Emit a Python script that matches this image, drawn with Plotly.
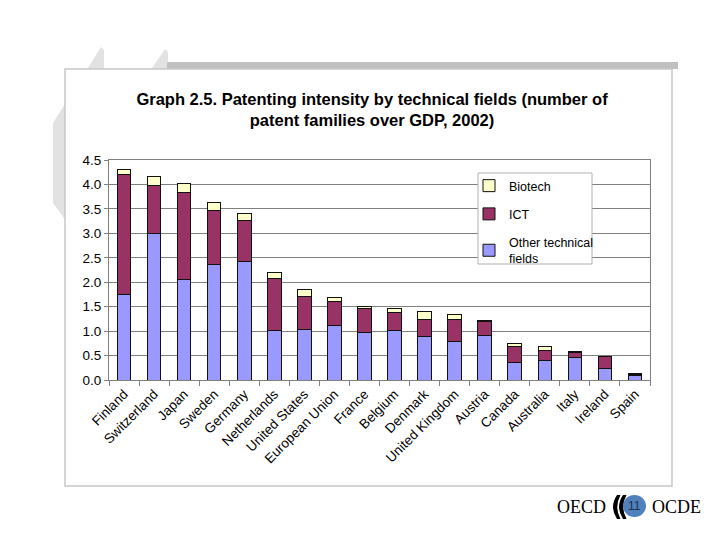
import plotly.graph_objects as go

countries = ["Finland", "Switzerland", "Japan", "Sweden", "Germany", "Netherlands",
             "United States", "European Union", "France", "Belgium", "Denmark",
             "United Kingdom", "Austria", "Canada", "Australia", "Italy", "Ireland", "Spain"]
other_fields = [1.74, 3.00, 2.06, 2.36, 2.42, 1.01, 1.04, 1.12, 0.97, 1.01, 0.89, 0.78, 0.91, 0.35, 0.39, 0.46, 0.24, 0.10]
ict = [2.47, 0.98, 1.77, 1.10, 0.85, 1.07, 0.66, 0.48, 0.49, 0.37, 0.34, 0.45, 0.28, 0.33, 0.21, 0.10, 0.24, 0.02]
biotech = [0.10, 0.18, 0.18, 0.18, 0.14, 0.11, 0.15, 0.09, 0.05, 0.09, 0.17, 0.10, 0.02, 0.07, 0.08, 0.02, 0.01, 0.01]

y_ticks = [0.0, 0.5, 1.0, 1.5, 2.0, 2.5, 3.0, 3.5, 4.0, 4.5]

FONT = "Liberation Sans, Arial, sans-serif"
OFF = 8  # page body margin
W, H = 720 - OFF, 540 - OFF
L, R, T, B = 109, 650, 160, 380  # plot area in screen pixels


def px(x):
    return (x - L) / (R - L)


def py(y):
    return (B - y) / (B - T)


def path(points):
    return "M " + " L ".join(f"{px(x):.5f},{py(y):.5f}" for x, y in points) + " Z"


fig = go.Figure()
series = [("Other technical<br>fields", other_fields, "#9999ff", "g3", 3),
          ("ICT", ict, "#993366", "g2", 2),
          ("Biotech", biotech, "#ffffcc", "g1", 1)]
for name, vals, col, grp, rank in series:
    fig.add_trace(go.Bar(
        x=countries, y=vals, name=name, legendgroup=grp, legendrank=rank,
        marker=dict(color=col, line=dict(color="#111111", width=1)),
    ))

shapes = []
shapes.append(dict(type="path", xref="paper", yref="paper", layer="below",
                   path=path([(101, 47), (104, 50), (104, 240), (80, 240), (53, 203), (53, 123)]),
                   fillcolor="#e2e2e2", line=dict(width=0)))
shapes.append(dict(type="path", xref="paper", yref="paper", layer="below",
                   path=path([(165, 49), (168, 52), (168, 80), (144, 80)]),
                   fillcolor="#e2e2e2", line=dict(width=0)))
shapes.append(dict(type="rect", xref="paper", yref="paper", layer="below",
                   x0=px(167), x1=px(678), y0=py(69), y1=py(62),
                   fillcolor="#c0c0c0", line=dict(width=0)))
shapes.append(dict(type="rect", xref="paper", yref="paper", layer="below",
                   x0=px(65), x1=px(672), y0=py(486), y1=py(69),
                   fillcolor="white", line=dict(color="#c8c8c8", width=1.5)))
shapes.append(dict(type="rect", xref="paper", yref="paper", layer="above",
                   x0=px(478), x1=px(592), y0=py(264), y1=py(173),
                   fillcolor="white", line=dict(color="#b0b0b0", width=1)))
shapes.append(dict(type="path", xref="paper", yref="paper", layer="above",
                   path=f"M {px(617):.5f},{py(495):.5f} Q {px(609):.5f},{py(507):.5f} {px(617):.5f},{py(519):.5f} L {px(620.5):.5f},{py(519):.5f} Q {px(614):.5f},{py(507):.5f} {px(620.5):.5f},{py(495):.5f} Z",
                   fillcolor="black", line=dict(width=0)))
shapes.append(dict(type="path", xref="paper", yref="paper", layer="above",
                   path=f"M {px(623):.5f},{py(495):.5f} Q {px(615):.5f},{py(507):.5f} {px(623):.5f},{py(519):.5f} L {px(626.5):.5f},{py(519):.5f} Q {px(620):.5f},{py(507):.5f} {px(626.5):.5f},{py(495):.5f} Z",
                   fillcolor="black", line=dict(width=0)))
shapes.append(dict(type="circle", xref="paper", yref="paper", layer="above",
                   x0=px(623), x1=px(646), y0=py(517), y1=py(495),
                   fillcolor="#4f81bd", line=dict(width=0)))

serif = "Liberation Serif, Times New Roman, serif"
annotations = [
    dict(text="OECD", xref="paper", yref="paper", x=px(581), y=py(507), showarrow=False,
         font=dict(family=serif, size=18, color="black"), xanchor="center", yanchor="middle"),
    dict(text="OCDE", xref="paper", yref="paper", x=px(676), y=py(507), showarrow=False,
         font=dict(family=serif, size=18, color="black"), xanchor="center", yanchor="middle"),
    dict(text="11", xref="paper", yref="paper", x=px(634.5), y=py(506), showarrow=False,
         font=dict(family=FONT, size=12, color="#1f2f50"), xanchor="center", yanchor="middle"),
]

fig.update_layout(
    width=W, height=H, autosize=False,
    margin=dict(l=L - OFF, r=W - (R - OFF), t=T - OFF, b=H - (B - OFF), pad=0),
    paper_bgcolor="white", plot_bgcolor="#c0c0c0",
    barmode="stack", bargap=0.55,
    font=dict(family=FONT, size=13, color="black"),
    title=dict(text="Graph 2.5. Patenting intensity by technical fields (number of<br>patent families over GDP, 2002)",
               x=(372 - OFF) / W, xref="container", xanchor="center",
               y=1 - (105 - OFF) / H, yref="container", yanchor="middle",
               font=dict(family=FONT, size=16.5, color="black", weight="bold")),
    legend=dict(x=px(469), y=py(171), xanchor="left", yanchor="top",
                bgcolor="rgba(0,0,0,0)", borderwidth=0,
                traceorder="grouped", tracegroupgap=9,
                font=dict(family=FONT, size=12.5, color="black")),
    shapes=shapes, annotations=annotations,
    xaxis=dict(showgrid=False, showline=True, linecolor="#808080", linewidth=1,
               mirror=True, ticks="outside", tickson="boundaries", ticklen=5,
               tickcolor="#808080", tickangle=-45, tickfont=dict(size=13.5),
               fixedrange=True),
    yaxis=dict(range=[0, 4.5], tickvals=y_ticks, tickformat=".1f",
               showgrid=True, gridcolor="#808080", gridwidth=1,
               showline=True, linecolor="#808080", linewidth=1, mirror=True,
               ticks="outside", ticklen=4, tickcolor="#808080",
               tickfont=dict(size=13.5), zeroline=False, fixedrange=True),
)

fig.write_html("out.html")
